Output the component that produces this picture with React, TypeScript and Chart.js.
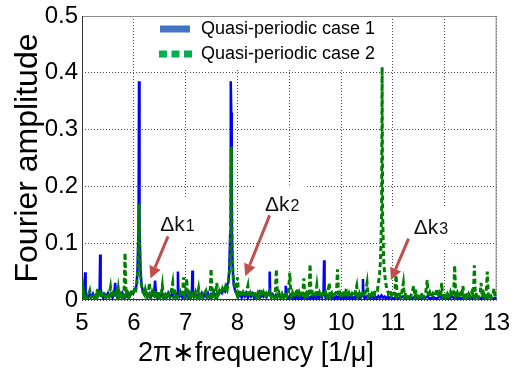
import React, { useEffect, useRef } from 'react';
import { Chart, registerables } from 'chart.js';

Chart.register(...registerables);

const xTickValues = [5, 6, 7, 8, 9, 10, 11, 12, 13];
const yTickValues = [0, 0.1, 0.2, 0.3, 0.4, 0.5];
const seriesNames = ['Quasi-periodic case 1', 'Quasi-periodic case 2'];
const xAxisTitle = '2\u03c0\u2217frequency [1/\u03bc]';
const yAxisTitle = 'Fourier amplitude';

// case 1 (blue, solid): [2*pi*frequency, amplitude]
const case1Points: [number, number][] = [
  [5.00, 0.008], [5.03, 0.012], [5.05, 0.020], [5.06, 0.049], [5.07, 0.015], [5.09, 0.008], [5.12, 0.004], [5.15, 0.010],
  [5.18, 0.006], [5.21, 0.011], [5.24, 0.004], [5.27, 0.009], [5.30, 0.006], [5.32, 0.012], [5.34, 0.020], [5.35, 0.080],
  [5.36, 0.020], [5.38, 0.008], [5.41, 0.004], [5.44, 0.010], [5.47, 0.005], [5.50, 0.012], [5.53, 0.006], [5.56, 0.010],
  [5.59, 0.004], [5.62, 0.010], [5.64, 0.030], [5.66, 0.008], [5.69, 0.004], [5.72, 0.010], [5.75, 0.006], [5.78, 0.012],
  [5.81, 0.005], [5.84, 0.010], [5.87, 0.006], [5.90, 0.012], [5.93, 0.008], [5.96, 0.014], [5.99, 0.012], [6.02, 0.018],
  [6.05, 0.025], [6.07, 0.050], [6.09, 0.120], [6.10, 0.385], [6.11, 0.120], [6.13, 0.050], [6.15, 0.025], [6.18, 0.015],
  [6.21, 0.010], [6.24, 0.014], [6.27, 0.006], [6.30, 0.011], [6.33, 0.005], [6.36, 0.012], [6.39, 0.008], [6.41, 0.034],
  [6.43, 0.008], [6.46, 0.004], [6.49, 0.010], [6.52, 0.006], [6.55, 0.012], [6.58, 0.004], [6.61, 0.010], [6.64, 0.006],
  [6.67, 0.012], [6.70, 0.004], [6.73, 0.010], [6.76, 0.006], [6.79, 0.011], [6.82, 0.005], [6.84, 0.012], [6.85, 0.050],
  [6.86, 0.012], [6.88, 0.006], [6.91, 0.010], [6.94, 0.004], [6.97, 0.011], [7.00, 0.006], [7.03, 0.010], [7.06, 0.004],
  [7.09, 0.012], [7.12, 0.015], [7.13, 0.052], [7.14, 0.015], [7.16, 0.006], [7.19, 0.010], [7.22, 0.004], [7.25, 0.011],
  [7.28, 0.006], [7.31, 0.012], [7.34, 0.004], [7.37, 0.010], [7.40, 0.006], [7.43, 0.012], [7.46, 0.004], [7.49, 0.010],
  [7.52, 0.006], [7.55, 0.012], [7.58, 0.008], [7.61, 0.013], [7.64, 0.010], [7.67, 0.015], [7.70, 0.012], [7.73, 0.018],
  [7.76, 0.015], [7.79, 0.025], [7.82, 0.030], [7.84, 0.050], [7.86, 0.120], [7.87, 0.385], [7.88, 0.330], [7.89, 0.120],
  [7.91, 0.050], [7.93, 0.025], [7.96, 0.015], [7.99, 0.010], [8.02, 0.006], [8.05, 0.011], [8.08, 0.004], [8.11, 0.010],
  [8.14, 0.006], [8.17, 0.012], [8.20, 0.004], [8.23, 0.010], [8.26, 0.006], [8.29, 0.011], [8.32, 0.004], [8.35, 0.010],
  [8.38, 0.006], [8.41, 0.012], [8.44, 0.004], [8.47, 0.010], [8.50, 0.006], [8.53, 0.011], [8.56, 0.005], [8.59, 0.010],
  [8.61, 0.015], [8.62, 0.050], [8.63, 0.015], [8.65, 0.006], [8.68, 0.010], [8.71, 0.004], [8.74, 0.009], [8.77, 0.005],
  [8.80, 0.010], [8.83, 0.004], [8.86, 0.009], [8.89, 0.005], [8.92, 0.010], [8.93, 0.025], [8.95, 0.006], [8.98, 0.003],
  [9.01, 0.008], [9.04, 0.003], [9.07, 0.006], [9.10, 0.002], [9.13, 0.007], [9.16, 0.003], [9.19, 0.012], [9.21, 0.003],
  [9.24, 0.006], [9.27, 0.002], [9.30, 0.006], [9.33, 0.003], [9.36, 0.007], [9.39, 0.002], [9.42, 0.006], [9.45, 0.003],
  [9.48, 0.007], [9.51, 0.002], [9.54, 0.006], [9.57, 0.003], [9.60, 0.007], [9.63, 0.004], [9.66, 0.015], [9.67, 0.070],
  [9.68, 0.015], [9.70, 0.004], [9.73, 0.007], [9.76, 0.002], [9.79, 0.006], [9.82, 0.003], [9.85, 0.007], [9.88, 0.002],
  [9.91, 0.006], [9.94, 0.003], [9.97, 0.007], [10.00, 0.002], [10.03, 0.006], [10.06, 0.003], [10.09, 0.007], [10.12, 0.002],
  [10.15, 0.006], [10.18, 0.003], [10.21, 0.007], [10.24, 0.002], [10.27, 0.006], [10.30, 0.003], [10.33, 0.007], [10.36, 0.002],
  [10.39, 0.006], [10.41, 0.012], [10.42, 0.037], [10.43, 0.010], [10.45, 0.003], [10.48, 0.006], [10.51, 0.002], [10.54, 0.006],
  [10.57, 0.003], [10.60, 0.007], [10.63, 0.002], [10.66, 0.006], [10.69, 0.003], [10.72, 0.007], [10.75, 0.004], [10.78, 0.008],
  [10.81, 0.004], [10.84, 0.006], [10.87, 0.002], [10.90, 0.006], [10.93, 0.003], [10.96, 0.006], [11.00, 0.002], [11.06, 0.005],
  [11.12, 0.002], [11.18, 0.006], [11.24, 0.002], [11.30, 0.005], [11.36, 0.002], [11.42, 0.006], [11.48, 0.002], [11.54, 0.005],
  [11.60, 0.002], [11.66, 0.006], [11.72, 0.002], [11.78, 0.005], [11.84, 0.002], [11.90, 0.006], [11.96, 0.002], [12.02, 0.005],
  [12.08, 0.002], [12.14, 0.006], [12.20, 0.002], [12.26, 0.005], [12.32, 0.002], [12.38, 0.006], [12.44, 0.002], [12.50, 0.005],
  [12.56, 0.002], [12.62, 0.006], [12.68, 0.002], [12.74, 0.005], [12.80, 0.002], [12.86, 0.006], [12.92, 0.002], [13.00, 0.004],
];

// case 2 (green, dashed): [2*pi*frequency, amplitude]
const case2Points: [number, number][] = [
  [5.00, 0.006], [5.02, 0.020], [5.04, 0.004], [5.07, 0.012], [5.10, 0.003], [5.13, 0.010], [5.15, 0.016], [5.17, 0.004],
  [5.20, 0.011], [5.23, 0.005], [5.26, 0.013], [5.28, 0.004], [5.30, 0.020], [5.32, 0.006], [5.35, 0.012], [5.38, 0.003],
  [5.41, 0.010], [5.44, 0.014], [5.46, 0.004], [5.49, 0.011], [5.52, 0.006], [5.55, 0.022], [5.57, 0.005], [5.60, 0.012],
  [5.63, 0.004], [5.66, 0.013], [5.68, 0.006], [5.70, 0.020], [5.72, 0.005], [5.75, 0.011], [5.78, 0.004], [5.81, 0.012],
  [5.83, 0.083], [5.85, 0.008], [5.88, 0.013], [5.91, 0.005], [5.94, 0.012], [5.97, 0.008], [6.00, 0.016], [6.03, 0.012],
  [6.06, 0.030], [6.08, 0.060], [6.10, 0.170], [6.12, 0.060], [6.14, 0.030], [6.17, 0.015], [6.20, 0.010], [6.22, 0.018],
  [6.25, 0.005], [6.28, 0.012], [6.30, 0.030], [6.32, 0.006], [6.35, 0.014], [6.38, 0.004], [6.41, 0.012], [6.44, 0.006],
  [6.47, 0.015], [6.50, 0.004], [6.53, 0.011], [6.55, 0.025], [6.57, 0.006], [6.60, 0.013], [6.63, 0.004], [6.66, 0.011],
  [6.69, 0.006], [6.72, 0.014], [6.75, 0.030], [6.77, 0.005], [6.80, 0.012], [6.83, 0.004], [6.86, 0.010], [6.89, 0.015],
  [6.92, 0.005], [6.94, 0.012], [6.96, 0.040], [6.98, 0.008], [7.00, 0.014], [7.02, 0.038], [7.04, 0.006], [7.07, 0.012],
  [7.10, 0.004], [7.13, 0.011], [7.16, 0.006], [7.19, 0.014], [7.22, 0.004], [7.25, 0.020], [7.27, 0.006], [7.30, 0.012],
  [7.33, 0.004], [7.36, 0.011], [7.39, 0.016], [7.41, 0.005], [7.44, 0.012], [7.47, 0.006], [7.49, 0.055], [7.51, 0.008],
  [7.54, 0.014], [7.57, 0.005], [7.60, 0.030], [7.62, 0.008], [7.65, 0.016], [7.68, 0.010], [7.71, 0.020], [7.74, 0.014],
  [7.77, 0.024], [7.80, 0.018], [7.83, 0.035], [7.86, 0.070], [7.88, 0.270], [7.90, 0.080], [7.92, 0.035], [7.95, 0.020],
  [7.98, 0.012], [8.00, 0.040], [8.02, 0.010], [8.05, 0.016], [8.08, 0.005], [8.11, 0.013], [8.14, 0.006], [8.17, 0.014],
  [8.20, 0.025], [8.22, 0.005], [8.25, 0.012], [8.28, 0.004], [8.31, 0.011], [8.34, 0.015], [8.36, 0.005], [8.39, 0.012],
  [8.42, 0.004], [8.45, 0.020], [8.47, 0.006], [8.50, 0.013], [8.53, 0.004], [8.56, 0.011], [8.59, 0.006], [8.62, 0.014],
  [8.65, 0.005], [8.68, 0.012], [8.71, 0.004], [8.73, 0.016], [8.75, 0.054], [8.77, 0.008], [8.80, 0.013], [8.83, 0.005],
  [8.86, 0.011], [8.89, 0.004], [8.92, 0.014], [8.95, 0.006], [8.98, 0.012], [9.01, 0.048], [9.03, 0.006], [9.06, 0.013],
  [9.09, 0.004], [9.12, 0.011], [9.15, 0.020], [9.17, 0.005], [9.20, 0.012], [9.23, 0.006], [9.26, 0.014], [9.28, 0.038],
  [9.30, 0.006], [9.33, 0.012], [9.36, 0.004], [9.38, 0.014], [9.40, 0.063], [9.42, 0.007], [9.45, 0.012], [9.48, 0.004],
  [9.51, 0.011], [9.53, 0.025], [9.55, 0.006], [9.58, 0.013], [9.61, 0.004], [9.64, 0.011], [9.67, 0.006], [9.70, 0.014],
  [9.73, 0.005], [9.75, 0.016], [9.77, 0.030], [9.79, 0.006], [9.82, 0.012], [9.85, 0.004], [9.88, 0.011], [9.91, 0.014],
  [9.93, 0.054], [9.95, 0.007], [9.98, 0.012], [10.01, 0.004], [10.04, 0.011], [10.07, 0.006], [10.10, 0.020], [10.12, 0.005],
  [10.15, 0.012], [10.18, 0.004], [10.21, 0.011], [10.24, 0.006], [10.27, 0.014], [10.30, 0.025], [10.32, 0.005], [10.35, 0.012],
  [10.38, 0.004], [10.41, 0.011], [10.44, 0.006], [10.47, 0.014], [10.50, 0.030], [10.52, 0.006], [10.55, 0.013], [10.58, 0.008],
  [10.61, 0.016], [10.64, 0.010], [10.67, 0.020], [10.70, 0.018], [10.72, 0.030], [10.74, 0.045], [10.76, 0.070], [10.78, 0.150],
  [10.79, 0.410], [10.80, 0.150], [10.82, 0.070], [10.84, 0.045], [10.86, 0.030], [10.88, 0.020], [10.91, 0.012], [10.94, 0.018],
  [10.97, 0.008], [11.00, 0.014], [11.03, 0.010], [11.06, 0.044], [11.08, 0.008], [11.11, 0.015], [11.14, 0.005], [11.17, 0.013],
  [11.20, 0.030], [11.22, 0.006], [11.25, 0.013], [11.28, 0.004], [11.31, 0.011], [11.34, 0.006], [11.37, 0.014], [11.40, 0.025],
  [11.42, 0.005], [11.45, 0.012], [11.48, 0.004], [11.51, 0.011], [11.54, 0.006], [11.57, 0.013], [11.60, 0.004], [11.63, 0.012],
  [11.66, 0.035], [11.68, 0.006], [11.71, 0.013], [11.74, 0.004], [11.77, 0.011], [11.80, 0.006], [11.83, 0.014], [11.85, 0.020],
  [11.87, 0.005], [11.90, 0.012], [11.92, 0.006], [11.94, 0.030], [11.96, 0.006], [11.99, 0.013], [12.02, 0.004], [12.05, 0.011],
  [12.08, 0.006], [12.11, 0.014], [12.14, 0.005], [12.17, 0.012], [12.19, 0.061], [12.21, 0.007], [12.24, 0.013], [12.27, 0.004],
  [12.30, 0.011], [12.33, 0.006], [12.35, 0.025], [12.37, 0.005], [12.40, 0.012], [12.43, 0.004], [12.46, 0.011], [12.49, 0.006],
  [12.52, 0.014], [12.55, 0.008], [12.57, 0.061], [12.59, 0.007], [12.62, 0.013], [12.65, 0.004], [12.68, 0.012], [12.70, 0.030],
  [12.72, 0.005], [12.75, 0.012], [12.78, 0.004], [12.80, 0.014], [12.82, 0.050], [12.84, 0.007], [12.87, 0.012], [12.90, 0.004],
  [12.93, 0.011], [12.95, 0.020], [12.97, 0.005], [13.00, 0.010],
];

// annotation labels and arrows, in data units
const annotationLabels = ['\u0394k', '\u0394k', '\u0394k'];
const annotationSubs = ['1', '2', '3'];
const annotationAt: [number, number][] = [[6.51, 0.122], [8.53, 0.157], [11.40, 0.117]];
const arrowTails: [number, number][] = [[6.66, 0.112], [8.62, 0.149], [11.30, 0.108]];
const arrowTips: [number, number][] = [[6.32, 0.038], [8.15, 0.042], [10.96, 0.035]];
const labelMasks: [number, number, number, number][] = [
  [6.09, 7.08, 0.180, 0.096],
  [8.32, 9.30, 0.203, 0.142],
  [10.87, 12.13, 0.164, 0.091],
];

const SANS = "'Liberation Sans', Arial, sans-serif";
const BLUE = 'rgb(0,0,255)';
const GREEN = 'rgb(0,128,0)';
const ARROW = 'rgb(192,80,77)';

const overlayPlugin = {
  id: 'overlay',
  beforeDatasetsDraw(chart: any) {
    const { ctx, chartArea: a, scales } = chart;
    const x = scales.x;
    const y = scales.y;
    ctx.save();
    ctx.fillStyle = '#ffffff';
    for (const m of labelMasks) {
      const x0 = x.getPixelForValue(m[0]);
      const x1 = x.getPixelForValue(m[1]);
      const y0 = y.getPixelForValue(m[2]);
      const y1 = y.getPixelForValue(m[3]);
      ctx.fillRect(x0, y0, x1 - x0, y1 - y0);
    }
    // legend background
    ctx.fillRect(a.left + 68, a.top + 1, 195, 51);
    // frame
    ctx.lineWidth = 1;
    ctx.strokeStyle = '#8a8a8a';
    ctx.beginPath();
    ctx.moveTo(a.left, a.top + 0.5);
    ctx.lineTo(a.right - 0.5, a.top + 0.5);
    ctx.lineTo(a.right - 0.5, a.bottom);
    ctx.stroke();
    ctx.strokeStyle = '#333333';
    ctx.beginPath();
    ctx.moveTo(a.left + 0.5, a.top);
    ctx.lineTo(a.left + 0.5, a.bottom - 0.5);
    ctx.lineTo(a.right, a.bottom - 0.5);
    ctx.stroke();
    ctx.restore();
  },
  afterDatasetsDraw(chart: any) {
    const { ctx, chartArea: a, scales } = chart;
    const x = scales.x;
    const y = scales.y;
    ctx.save();
    // arrows
    for (let i = 0; i < arrowTips.length; i++) {
      const tx = x.getPixelForValue(arrowTails[i][0]);
      const ty = y.getPixelForValue(arrowTails[i][1]);
      const hx = x.getPixelForValue(arrowTips[i][0]);
      const hy = y.getPixelForValue(arrowTips[i][1]);
      const ang = Math.atan2(hy - ty, hx - tx);
      const len = 12;
      const half = 6;
      const bx = hx - Math.cos(ang) * len;
      const by = hy - Math.sin(ang) * len;
      ctx.strokeStyle = ARROW;
      ctx.fillStyle = ARROW;
      ctx.lineWidth = 3;
      ctx.beginPath();
      ctx.moveTo(tx, ty);
      ctx.lineTo(bx, by);
      ctx.stroke();
      ctx.beginPath();
      ctx.moveTo(hx, hy);
      ctx.lineTo(bx + Math.sin(ang) * half, by - Math.cos(ang) * half);
      ctx.lineTo(bx - Math.sin(ang) * half, by + Math.cos(ang) * half);
      ctx.closePath();
      ctx.fill();
    }
    // labels
    ctx.fillStyle = '#111111';
    ctx.textBaseline = 'alphabetic';
    ctx.textAlign = 'left';
    for (let i = 0; i < annotationLabels.length; i++) {
      const lx = x.getPixelForValue(annotationAt[i][0]);
      const ly = y.getPixelForValue(annotationAt[i][1]);
      ctx.font = `21px ${SANS}`;
      ctx.fillText(annotationLabels[i], lx, ly);
      const w = ctx.measureText(annotationLabels[i]).width;
      ctx.font = `16px ${SANS}`;
      ctx.fillText(annotationSubs[i], lx + w + 1, ly);
    }
    // legend
    const lx = a.left + 78;
    const rows = [a.top + 13, a.top + 38];
    ctx.fillStyle = 'rgb(68,114,196)';
    ctx.fillRect(lx, rows[0] - 3.5, 30, 7);
    ctx.fillStyle = 'rgb(0,176,80)';
    for (let k = 0; k < 3; k++) {
      ctx.fillRect(lx - 1 + k * 12.5, rows[1] - 3.5, 8, 7);
    }
    ctx.fillStyle = '#000000';
    ctx.textBaseline = 'middle';
    ctx.font = `18px ${SANS}`;
    ctx.fillText(seriesNames[0], lx + 41, rows[0]);
    ctx.fillText(seriesNames[1], lx + 41, rows[1]);
    // x-axis title (offset left of centre as in the original figure)
    ctx.font = `27px ${SANS}`;
    ctx.textAlign = 'center';
    ctx.fillText(xAxisTitle, 256, 354);
    ctx.restore();
  },
};

export default function App() {
  const canvasRef = useRef<HTMLCanvasElement | null>(null);

  useEffect(() => {
    const canvas = canvasRef.current;
    if (!canvas) return;
    const chart = new Chart(canvas, {
      type: 'scatter',
      data: {
        datasets: [
          {
            label: seriesNames[0],
            data: case1Points.map(([fx, fy]) => ({ x: fx, y: fy })),
            showLine: true,
            borderColor: BLUE,
            backgroundColor: BLUE,
            borderWidth: 2.5,
            pointRadius: 0,
            tension: 0,
            order: 1,
          },
          {
            label: seriesNames[1],
            data: case2Points.map(([fx, fy]) => ({ x: fx, y: fy })),
            showLine: true,
            borderColor: GREEN,
            backgroundColor: GREEN,
            borderWidth: 3,
            borderDash: [5, 3],
            pointRadius: 0,
            tension: 0,
            order: 0,
          },
        ],
      },
      options: {
        animation: false,
        responsive: false,
        devicePixelRatio: 1,
        layout: { padding: { left: 0, right: 15, top: 14, bottom: 0 } },
        plugins: { legend: { display: false }, tooltip: { enabled: false } },
        scales: {
          x: {
            type: 'linear',
            min: 5,
            max: 13,
            afterFit: (s: any) => { s.height = 72; },
            afterBuildTicks: (s: any) => { s.ticks = xTickValues.map((v) => ({ value: v })); },
            ticks: {
              color: '#000',
              padding: 11,
              maxRotation: 0,
              autoSkip: false,
              font: { family: SANS, size: 24, lineHeight: 1 },
              callback: (v: any) => String(v),
            },
            grid: { color: '#4a4a4a', lineWidth: 1, drawTicks: false },
            border: { display: false, dash: [1, 2] },
            title: { display: false, text: xAxisTitle },
          },
          y: {
            type: 'linear',
            min: 0,
            max: 0.5,
            afterFit: (s: any) => { s.width = 82; },
            afterBuildTicks: (s: any) => { s.ticks = yTickValues.map((v) => ({ value: v })); },
            ticks: {
              color: '#000',
              padding: 4,
              autoSkip: false,
              font: { family: SANS, size: 24, lineHeight: 1 },
              callback: (v: any) => (v === 0 ? '0' : Number(v).toFixed(1)),
            },
            grid: { color: '#4a4a4a', lineWidth: 1, drawTicks: false },
            border: { display: false, dash: [1, 2] },
            title: {
              display: true,
              text: yAxisTitle,
              color: '#000',
              font: { family: SANS, size: 32, lineHeight: 1 },
              padding: { top: 12, bottom: 0 },
            },
          },
        },
      },
      plugins: [overlayPlugin],
    });
    return () => chart.destroy();
  }, []);

  return (
    <div style={{ position: 'absolute', left: 0, top: 0, width: 521, height: 372, background: '#fff' }}>
      <canvas ref={canvasRef} width={521} height={372} style={{ display: 'block', width: 521, height: 372 }} />
    </div>
  );
}
